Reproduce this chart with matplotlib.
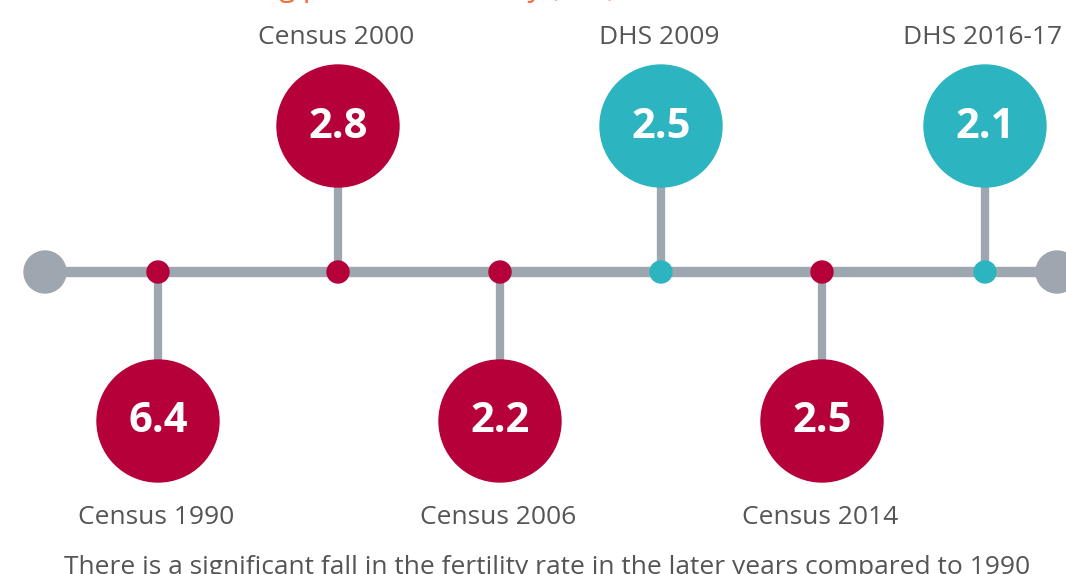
import matplotlib
matplotlib.use("Agg")
import matplotlib.pyplot as plt
from matplotlib.patches import Circle

# ---- data ----
sources = ["Census 1990", "Census 2000", "Census 2006", "DHS 2009", "Census 2014", "DHS 2016-17"]
tfr = [6.4, 2.8, 2.2, 2.5, 2.5, 2.1]
kind = ["Census", "Census", "Census", "DHS", "Census", "DHS"]
title = "Declining pattern of fertility (TFR)"
note = "There is a significant fall in the fertility rate in the later years compared to 1990"

# ---- layout / style ----
W, H = 1066, 574
xpos = [158, 338, 500, 661, 822, 985]
line_y = 272
up_y, down_y = 126, 421
big_r, small_r, end_r = 61, 11, 21
colors = {"Census": "#B5003A", "DHS": "#2CB5C0"}
gray = "#9EA6AF"
textc = "#555555"
font = ["Open Sans", "DejaVu Sans"]

fig = plt.figure(figsize=(W / 100, H / 100), dpi=100)
ax = fig.add_axes([0, 0, 1, 1])
ax.set_xlim(0, W)
ax.set_ylim(H, 0)
ax.set_aspect("equal")
ax.axis("off")

# main timeline
ax.plot([45, 1057], [line_y, line_y], color=gray, lw=7.5, solid_capstyle="butt", zorder=1)
for xe in (45, 1057):
    ax.add_patch(Circle((xe, line_y), end_r, color=gray, zorder=2))

for i, (src, val, k) in enumerate(zip(sources, tfr, kind)):
    x = xpos[i]
    c = colors[k]
    upper = (i % 2 == 1)
    cy = up_y if upper else down_y
    ax.plot([x, x], [line_y, cy], color=gray, lw=6, solid_capstyle="butt", zorder=1)
    ax.add_patch(Circle((x, line_y), small_r, color=c, zorder=3))
    ax.add_patch(Circle((x, cy), big_r, color=c, zorder=3))
    ax.text(x, cy + 1, f"{val:.1f}", color="white", fontsize=30, fontweight="bold",
            family=font, ha="center", va="center", zorder=4)
    ly = 38 if upper else 517
    ax.text(x - 2, ly, src, color=textc, fontsize=19, family=font,
            ha="center", va="center", zorder=4)

ax.text(393, -4, title, color="#F26B3A", fontsize=21, family=font, ha="center", va="baseline")
ax.text(547, 555, note, color=textc, fontsize=19, family=font, ha="center", va="top")

fig.savefig("out.png", dpi=100)
